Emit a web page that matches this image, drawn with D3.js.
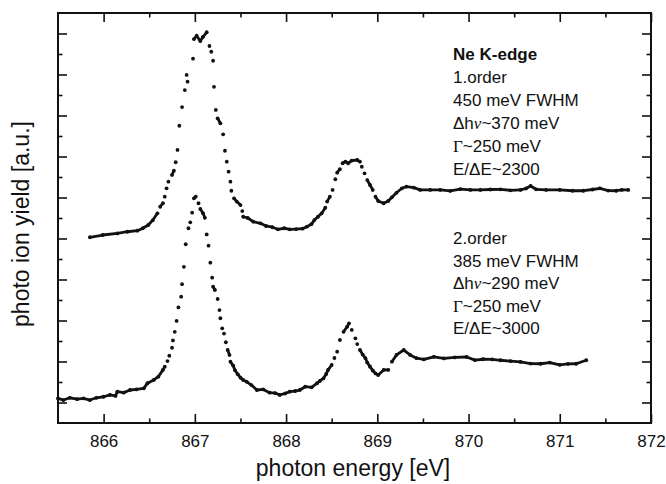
<!DOCTYPE html>
<html>
<head>
<meta charset="utf-8">
<script src="https://cdn.jsdelivr.net/npm/d3@7"></script>
<style>
  body { margin: 0; background: #fff; }
  svg { display: block; }
  text { font-family: "Liberation Sans", Arial, Helvetica, sans-serif; fill: #111; }
</style>
</head>
<body>
<svg id="chart" width="666" height="484"></svg>
<script>
// photon energy axis ticks [eV]
var xTicks = [866, 867, 868, 869, 870, 871, 872];
var xMinorTicks = [866.5, 867.5, 868.5, 869.5, 870.5, 871.5];
// yield axis has unlabeled ticks only (arbitrary units)
var yTicks = [1, 3, 5, 7, 9, 11, 13, 15, 17, 19];
var yMinorTicks = [2, 4, 6, 8, 10, 12, 14, 16, 18];

// 1. order spectrum (upper trace)
var order1Energy = [865.85, 865.99, 866.15, 866.26, 866.37, 866.43, 866.49, 866.54, 866.59, 866.62,
  866.65, 866.67, 866.69, 866.71, 866.75, 866.77, 866.79, 866.81, 866.83, 866.86,
  866.89, 866.91, 866.92, 866.98, 866.99, 867.02, 867.06, 867.09, 867.13, 867.16,
  867.18, 867.20, 867.21, 867.23, 867.25, 867.28, 867.31, 867.33, 867.35, 867.37,
  867.39, 867.40, 867.43, 867.46, 867.50, 867.52, 867.53, 867.58, 867.64, 867.72,
  867.78, 867.85, 867.91, 867.98, 868.04, 868.11, 868.18, 868.23, 868.28, 868.31,
  868.35, 868.39, 868.43, 868.45, 868.48, 868.51, 868.54, 868.56, 868.59, 868.62,
  868.65, 868.68, 868.72, 868.78, 868.81, 868.83, 868.86, 868.89, 868.92, 868.95,
  868.98, 869.01, 869.07, 869.12, 869.16, 869.21, 869.27, 869.32, 869.40, 869.47,
  869.58, 869.69, 869.80, 869.91, 870.02, 870.13, 870.24, 870.35, 870.46, 870.57,
  870.63, 870.68, 870.74, 870.85, 871.00, 871.14, 871.26, 871.36, 871.44, 871.53,
  871.62, 871.68, 871.75];
var order1Yield = [9.06, 9.17, 9.25, 9.33, 9.38, 9.50, 9.66, 9.90, 10.23, 10.55,
  10.72, 11.04, 11.45, 11.77, 12.10, 12.31, 12.72, 13.32, 14.50, 15.41,
  16.24, 16.98, 16.65, 17.77, 18.73, 18.89, 18.63, 18.84, 19.06, 18.39,
  18.11, 17.67, 16.40, 15.27, 14.86, 14.62, 14.08, 13.28, 12.75, 12.26,
  11.77, 11.33, 10.96, 10.80, 10.63, 10.34, 10.06, 10.00, 9.82, 9.74,
  9.61, 9.55, 9.45, 9.50, 9.45, 9.46, 9.48, 9.58, 9.71, 9.90,
  10.06, 10.23, 10.50, 10.80, 11.04, 11.37, 11.89, 12.21, 12.38, 12.67,
  12.75, 12.67, 12.80, 12.83, 12.75, 12.50, 12.18, 11.85, 11.61, 11.37,
  11.04, 10.83, 10.72, 10.83, 11.01, 11.23, 11.45, 11.53, 11.48, 11.37,
  11.37, 11.37, 11.32, 11.41, 11.37, 11.37, 11.39, 11.40, 11.35, 11.37,
  11.44, 11.56, 11.40, 11.37, 11.37, 11.33, 11.33, 11.39, 11.45, 11.34,
  11.33, 11.37, 11.37];

// 2. order spectrum (lower trace)
var order2Energy = [865.50, 865.56, 865.63, 865.71, 865.78, 865.85, 865.92, 866.00, 866.07, 866.13,
  866.15, 866.22, 866.29, 866.36, 866.44, 866.48, 866.55, 866.60, 866.65, 866.67,
  866.70, 866.72, 866.75, 866.76, 866.78, 866.80, 866.82, 866.85, 866.86, 866.88,
  866.90, 866.93, 866.95, 866.97, 866.99, 867.01, 867.04, 867.06, 867.09, 867.11,
  867.13, 867.15, 867.17, 867.19, 867.20, 867.22, 867.25, 867.27, 867.28, 867.30,
  867.32, 867.34, 867.36, 867.38, 867.39, 867.42, 867.44, 867.47, 867.50, 867.53,
  867.57, 867.62, 867.68, 867.75, 867.82, 867.88, 867.93, 867.99, 868.04, 868.10,
  868.15, 868.21, 868.28, 868.34, 868.37, 868.41, 868.44, 868.46, 868.50, 868.53,
  868.56, 868.59, 868.63, 868.67, 868.69, 868.72, 868.76, 868.78, 868.81, 868.84,
  868.87, 868.89, 868.92, 868.95, 868.98, 869.01, 869.07, 869.12, 869.16, 869.21,
  869.29, 869.36, 869.43, 869.51, 869.62, 869.73, 869.85, 869.98, 870.07, 870.16,
  870.26, 870.35, 870.46, 870.57, 870.68, 870.79, 870.89, 871.00, 871.09, 871.18, 871.29];
var order2Yield = [1.20, 1.12, 1.23, 1.16, 1.20, 1.12, 1.23, 1.28, 1.37, 1.32,
  1.53, 1.48, 1.61, 1.64, 1.69, 1.94, 2.10, 2.26, 2.59, 2.75,
  3.02, 3.28, 3.67, 4.03, 4.45, 4.98, 5.64, 6.16, 6.77, 7.62,
  8.72, 9.50, 9.79, 10.26, 10.96, 11.04, 10.72, 10.44, 10.23, 10.01,
  9.20, 8.65, 7.82, 7.09, 6.65, 6.49, 6.05, 5.51, 5.11, 4.62,
  4.36, 3.94, 3.56, 3.32, 2.99, 2.80, 2.57, 2.38, 2.21, 2.10,
  2.01, 1.85, 1.61, 1.64, 1.48, 1.46, 1.37, 1.44, 1.53, 1.56,
  1.61, 1.77, 1.74, 1.94, 2.05, 2.18, 2.39, 2.59, 2.83, 3.17,
  3.48, 4.05, 4.45, 4.70, 4.86, 4.54, 4.13, 3.85, 3.56, 3.34,
  3.16, 2.95, 2.75, 2.56, 2.42, 2.34, 2.59, 2.59, 2.99, 3.32,
  3.56, 3.32, 3.16, 3.10, 3.23, 3.15, 3.20, 3.22, 3.07, 3.11,
  3.10, 3.06, 3.02, 2.98, 2.90, 2.89, 2.95, 2.84, 2.88, 2.89, 3.06];

var order1Notes = ["Ne K-edge", "1.order", "450 meV FWHM", "\u0394h\u03bd~370 meV", "\u0393~250 meV", "E/\u0394E~2300"];
var order2Notes = ["2.order", "385 meV FWHM", "\u0394h\u03bd~290 meV", "\u0393~250 meV", "E/\u0394E~3000"];

function drawChart() {
  var margins = { left: 58, right: 15, top: 13, bottom: 61 };
  var width = 666 - margins.left - margins.right;
  var height = 484 - margins.top - margins.bottom;

  var svg = d3.select("#chart");
  var plotArea = svg.append("g")
    .attr("transform", "translate(" + margins.left + "," + margins.top + ")");

  var xScale = d3.scaleLinear().domain([865.5, 872]).range([0, width]);
  var yScale = d3.scaleLinear().domain([0, 20]).range([height, 0]);

  // ticks all point inward
  function addAxis(axis, tx, ty, labels) {
    var g = plotArea.append("g")
      .attr("transform", "translate(" + tx + "," + ty + ")")
      .call(axis);
    g.select(".domain").remove();
    g.selectAll(".tick line").attr("stroke", "#111").attr("stroke-width", 1.6);
    if (labels) {
      g.selectAll(".tick text")
        .style("font-family", "'Liberation Sans', Arial, sans-serif")
        .style("font-size", "17px")
        .attr("fill", "#111");
    }
  }

  addAxis(d3.axisBottom(xScale).tickValues(xTicks).tickSizeInner(-9).tickSizeOuter(0)
    .tickPadding(12).tickFormat(d3.format("d")), 0, height, true);
  addAxis(d3.axisBottom(xScale).tickValues(xMinorTicks).tickSizeInner(-4.5).tickSizeOuter(0)
    .tickFormat(""), 0, height, false);
  addAxis(d3.axisTop(xScale).tickValues(xTicks).tickSizeInner(-9).tickSizeOuter(0)
    .tickFormat(""), 0, 0, false);
  addAxis(d3.axisTop(xScale).tickValues(xMinorTicks).tickSizeInner(-4.5).tickSizeOuter(0)
    .tickFormat(""), 0, 0, false);
  addAxis(d3.axisLeft(yScale).tickValues(yTicks).tickSizeInner(-9).tickSizeOuter(0)
    .tickFormat(""), 0, 0, false);
  addAxis(d3.axisLeft(yScale).tickValues(yMinorTicks).tickSizeInner(-4.5).tickSizeOuter(0)
    .tickFormat(""), 0, 0, false);
  addAxis(d3.axisRight(yScale).tickValues(yTicks).tickSizeInner(-9).tickSizeOuter(0)
    .tickFormat(""), width, 0, false);
  addAxis(d3.axisRight(yScale).tickValues(yMinorTicks).tickSizeInner(-4.5).tickSizeOuter(0)
    .tickFormat(""), width, 0, false);

  plotArea.append("rect")
    .attr("x", 0).attr("y", 0)
    .attr("width", width).attr("height", height)
    .attr("fill", "none")
    .attr("stroke", "#111")
    .attr("stroke-width", 2);

  // each spectrum: close neighbours merge into a thick trace, steep parts stay as dots
  function drawSpectrum(energy, yieldValues) {
    var pts = energy.map(function(e, i) {
      return [xScale(e), yScale(yieldValues[i])];
    });
    var segs = [];
    for (var i = 0; i < pts.length - 1; i++) {
      var dx = pts[i + 1][0] - pts[i][0];
      var dy = Math.abs(pts[i + 1][1] - pts[i][1]);
      if (dx <= 16 && dy <= Math.max(5, 1.8 * dx)) segs.push([pts[i], pts[i + 1]]);
    }
    var g = plotArea.append("g");
    g.selectAll("line")
      .data(segs)
      .enter()
      .append("line")
      .attr("x1", function(d) { return d[0][0]; })
      .attr("y1", function(d) { return d[0][1]; })
      .attr("x2", function(d) { return d[1][0]; })
      .attr("y2", function(d) { return d[1][1]; })
      .attr("stroke", "#111")
      .attr("stroke-width", 2.8)
      .attr("stroke-linecap", "round");
    g.selectAll("circle")
      .data(pts)
      .enter()
      .append("circle")
      .attr("cx", function(d) { return d[0]; })
      .attr("cy", function(d) { return d[1]; })
      .attr("r", 1.9)
      .attr("fill", "#111");
  }

  drawSpectrum(order1Energy, order1Yield);
  drawSpectrum(order2Energy, order2Yield);

  function writeNotes(lines, x0, y0, step, boldFirst) {
    lines.forEach(function(line, i) {
      var t = svg.append("text")
        .attr("x", x0)
        .attr("y", y0 + i * step)
        .style("font-size", "17px")
        .style("font-weight", boldFirst && i === 0 ? "bold" : "normal");
      Array.from(line).forEach(function(ch) {
        var span = t.append("tspan").text(ch);
        if (ch === "\u03bd") span.style("font-style", "italic").style("font-family", "'Liberation Serif', serif");
        if (ch === "\u0393") span.style("font-family", "'Liberation Serif', serif");
      });
    });
  }

  writeNotes(order1Notes, 453, 60, 23, true);
  writeNotes(order2Notes, 453, 244, 22.5, false);

  svg.append("text")
    .attr("x", 353)
    .attr("y", 476)
    .attr("text-anchor", "middle")
    .style("font-size", "23px")
    .text("photon energy [eV]");

  svg.append("text")
    .attr("transform", "translate(29," + (margins.top + height / 2 + 6) + ") rotate(-90)")
    .attr("text-anchor", "middle")
    .style("font-size", "23px")
    .text("photo ion yield [a.u.]");
}

drawChart();
</script>
</body>
</html>
